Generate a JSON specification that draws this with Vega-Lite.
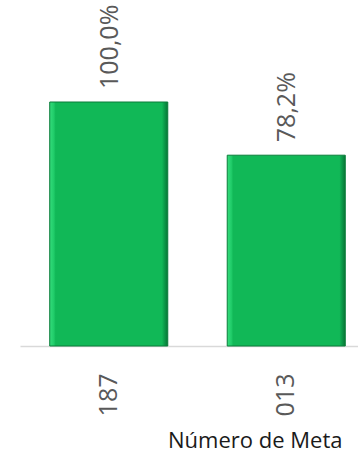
{
  "$schema": "https://vega.github.io/schema/vega-lite/v6.json",
  "width": 338,
  "height": 244,
  "autosize": {"type": "none"},
  "padding": {"left": 20, "top": 102, "right": 0, "bottom": 109},
  "background": "white",
  "config": {
    "view": {"stroke": null},
    "locale": {"number": {"decimal": ",", "thousands": ".", "grouping": [3], "currency": ["", " €"]}}
  },
  "data": {"values": [
    {"meta": "187", "pct": 1.0},
    {"meta": "013", "pct": 0.782}
  ]},
  "encoding": {
    "x": {
      "field": "meta", "type": "nominal", "sort": null,
      "scale": {"paddingInner": 0.335, "paddingOuter": 0.1675, "range": [0, 355]},
      "axis": {
        "title": "Número de Meta",
        "titleFont": "Open Sans", "titleFontSize": 22, "titleFontWeight": "normal", "titleColor": "#1a1a1a",
        "titleAnchor": "start", "titleAlign": "right", "titleBaseline": "alphabetic",
        "titleX": 322, "titleY": 101,
        "labelAngle": -90, "labelFont": "Open Sans", "labelFontSize": 25, "labelColor": "#595959",
        "labelPadding": 27, "ticks": false,
        "domainColor": "#d9d9d9", "domainWidth": 1.5, "grid": false
      }
    },
    "y": {"field": "pct", "type": "quantitative", "scale": {"domain": [0, 1]}, "axis": null}
  },
  "layer": [
    {
      "mark": {
        "type": "bar",
        "stroke": "#0a7d3a", "strokeWidth": 1,
        "color": {
          "gradient": "linear", "x1": 0, "x2": 1, "y1": 0, "y2": 0,
          "stops": [
            {"offset": 0, "color": "#35dc7c"},
            {"offset": 0.035, "color": "#20cc69"},
            {"offset": 0.05, "color": "#11b857"},
            {"offset": 0.95, "color": "#11b857"},
            {"offset": 0.97, "color": "#0c9c4a"},
            {"offset": 1, "color": "#077535"}
          ]
        }
      }
    },
    {
      "mark": {
        "type": "text", "angle": 270, "align": "left", "baseline": "middle",
        "dx": 13, "dy": 1, "font": "Open Sans", "fontSize": 25, "color": "#595959"
      },
      "encoding": {"text": {"field": "pct", "type": "quantitative", "format": ".1%"}}
    }
  ]
}
